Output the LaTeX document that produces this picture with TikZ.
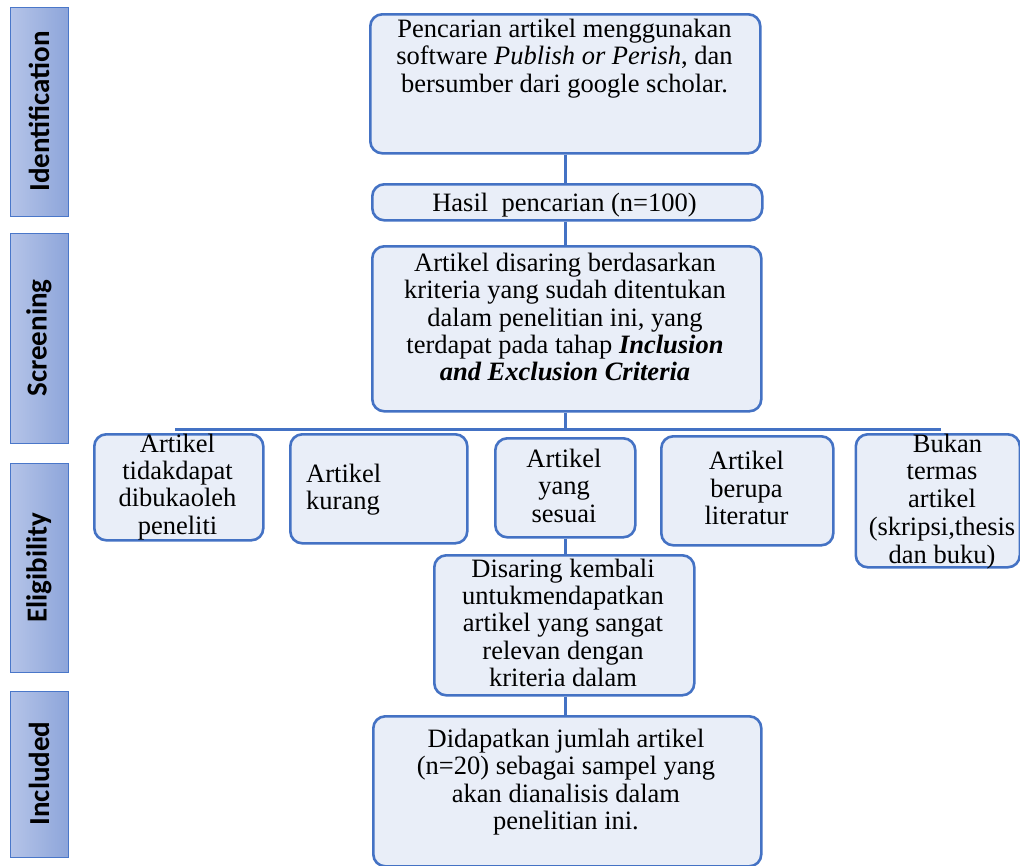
\documentclass[tikz,border=0pt]{standalone}
\usepackage{fontspec}
\setmainfont{Liberation Serif}
\newfontfamily\sidefont{Carlito}
\definecolor{bblue}{HTML}{4472C4}
\definecolor{bfill}{HTML}{E9EEF8}
\definecolor{sidel}{HTML}{B5C4E8}
\definecolor{sider}{HTML}{8DA5DA}
\definecolor{sideb}{HTML}{4A77C9}
\newcommand{\mainf}{\fontsize{26.5}{27.3}\selectfont}
\newcommand{\sidef}{\sidefont\bfseries\fontsize{29}{30}\selectfont}
\tikzset{
  box/.style={draw=bblue, line width=2.6pt, fill=bfill, rounded corners=12pt, anchor=north west, inner sep=0pt},
  txt/.style={font=\mainf, align=center, inner sep=0pt, anchor=north},
  side/.style={draw=sideb, line width=1.3pt, left color=sidel, right color=sider, anchor=north west, inner sep=0pt},
  sidelab/.style={font=\sidef, rotate=90, inner sep=0pt},
  conn/.style={draw=bblue, line width=2.6pt}
}
\begin{document}
\begin{tikzpicture}[x=1pt,y=-1pt]
\useasboundingbox (0,0) rectangle (1020,865);
% side bars
\node[side, minimum width=58.5, minimum height=209] (sid1) at (9.5,7) {};
\node[side, minimum width=58.5, minimum height=210] (sid2) at (9.5,233) {};
\node[side, minimum width=58.5, minimum height=209] (sid3) at (9.5,463) {};
\node[side, minimum width=58.5, minimum height=166] (sid4) at (9.5,691) {};
\node[sidelab] (lab1) at (39,111.5) {Identification};
\node[sidelab] (lab2) at (39,338) {Screening};
\node[sidelab] (lab3) at (39,567.5) {Eligibility};
\node[sidelab] (lab4) at (39,773.5) {Included};
% main boxes
\node[box, minimum width=390, minimum height=139] (top) at (369,13) {};
\node[box, minimum width=390, minimum height=36] (hasil) at (371,183) {};
\node[box, minimum width=389, minimum height=165] (scr) at (371,245) {};
\node[box, minimum width=169, minimum height=106] (b1) at (93,433) {};
\node[box, minimum width=177, minimum height=109] (b2) at (289,433) {};
\node[box, minimum width=140, minimum height=99] (b3) at (494,437) {};
\node[box, minimum width=172, minimum height=109] (b4) at (660,435) {};
\node[box, minimum width=164, minimum height=133] (b5) at (854.5,433) {};
\node[box, minimum width=260, minimum height=140] (dis) at (433,554) {};
\node[box, minimum width=388, minimum height=150] (inc) at (372,715) {};
% texts
\node[txt] (ttop) at (564.5,18.9) {Pencarian artikel menggunakan\\ software \textit{Publish or Perish}, dan\\ bersumber dari google scholar.};
\node[font=\mainf, inner sep=0pt, anchor=base] (thasil) at (564.5,211.7) {Hasil~ pencarian (n=100)};
\node[txt] (tscr) at (565,252.9) {Artikel disaring berdasarkan\\ kriteria yang sudah ditentukan\\ dalam penelitian ini, yang\\ terdapat pada tahap \textbf{\textit{Inclusion}}\\ \textbf{\textit{and Exclusion Criteria}}};
\node[txt] (tb1) at (177.5,433.6) {Artikel\\ tidakdapat\\ dibukaoleh\\ peneliti};
\node[txt, align=left, anchor=north west] (tb2) at (306,463.6) {Artikel\\ kurang};
\node[txt] (tb3) at (564,448.9) {Artikel\\ yang\\ sesuai};
\node[txt] (tb4) at (746.5,451.2) {Artikel\\ berupa\\ literatur};
\node[txt, font=\fontsize{26.5}{27.75}\selectfont] (tb5) at (942,433.6) {\hspace*{11pt}Bukan\\ termas\hspace*{17pt}\\ artikel\\ (skripsi,thesis\\ dan buku)};
\node[txt] (tdis) at (563,558.6) {Disaring kembali\\ untukmendapatkan\\ artikel yang sangat\\ relevan dengan\\ kriteria dalam};
\node[txt] (tinc) at (566,728.9) {Didapatkan jumlah artikel\\ (n=20) sebagai sampel yang\\ akan dianalisis dalam\\ penelitian ini.};
% connectors
\coordinate (busL) at (175,429.3);
\coordinate (busR) at (941,429.3);
\draw[conn] (top.south) -- (top.south |- hasil.north);
\draw[conn] (top.south |- hasil.south) -- (top.south |- scr.north);
\draw[conn] (top.south |- scr.south) -- (top.south |- busL);
\draw[conn] (busL) -- (busR);
\draw[conn] (top.south |- b3.south) -- (top.south |- dis.north);
\draw[conn] (top.south |- dis.south) -- (top.south |- inc.north);
\end{tikzpicture}
\end{document}
